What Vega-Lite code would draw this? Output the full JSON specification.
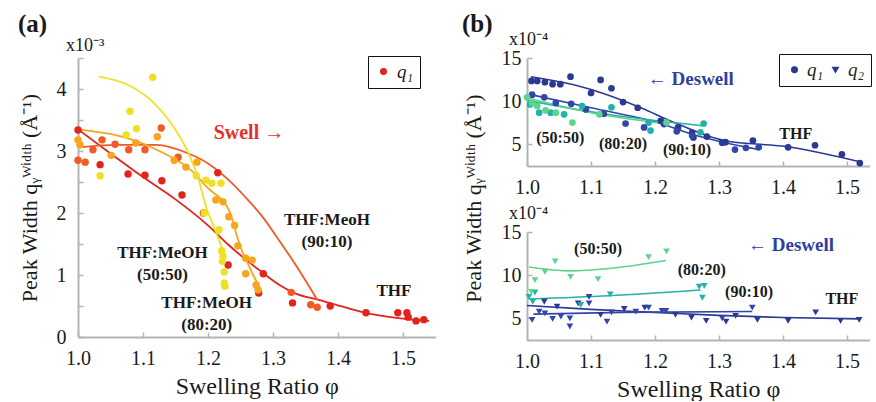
{
"$schema":"https://vega.github.io/schema/vega-lite/v6.json",
"background":"white",
"padding":{"left":17,"top":12,"right":2,"bottom":0},
"config":{
 "font":"Liberation Serif",
 "view":{"stroke":null},
 "axis":{"grid":false,"labelFlush":false,"domainColor":"#b4b4b4","domainWidth":2,"tickColor":"#b4b4b4","tickWidth":1.5,"tickSize":-5,"labelFont":"Liberation Serif","labelFontSize":20,"labelColor":"#1a1a1a","titleFont":"Liberation Serif","titleFontWeight":"normal","titleFontSize":24,"titleColor":"#1a1a1a"},
 "title":{"font":"Liberation Serif","color":"#1a1a1a"},
 "legend":{"labelFont":"Liberation Serif","labelFontSize":19,"labelFontStyle":"italic","labelColor":"#1a1a1a","strokeColor":"#111","padding":6}
},
"datasets":{
 "a_pts":[
  {"s":"THF","phi":1.0,"w":3.34},{"s":"THF","phi":1.034,"w":2.78},{"s":"THF","phi":1.077,"w":2.63},{"s":"THF","phi":1.103,"w":2.61},{"s":"THF","phi":1.129,"w":2.52},{"s":"THF","phi":1.16,"w":2.29},{"s":"THF","phi":1.193,"w":2.0},{"s":"THF","phi":1.215,"w":2.65},{"s":"THF","phi":1.231,"w":1.16},{"s":"THF","phi":1.278,"w":0.71},{"s":"THF","phi":1.285,"w":1.02},{"s":"THF","phi":1.33,"w":0.55},{"s":"THF","phi":1.388,"w":0.5},{"s":"THF","phi":1.443,"w":0.39},{"s":"THF","phi":1.492,"w":0.39},{"s":"THF","phi":1.506,"w":0.39},{"s":"THF","phi":1.508,"w":0.32},{"s":"THF","phi":1.52,"w":0.26},{"s":"THF","phi":1.532,"w":0.28},
  {"s":"90:10","phi":1.0,"w":2.85},{"s":"90:10","phi":1.011,"w":2.82},{"s":"90:10","phi":1.023,"w":3.02},{"s":"90:10","phi":1.037,"w":3.18},{"s":"90:10","phi":1.057,"w":3.11},{"s":"90:10","phi":1.078,"w":3.02},{"s":"90:10","phi":1.103,"w":3.02},{"s":"90:10","phi":1.128,"w":3.37},{"s":"90:10","phi":1.154,"w":2.9},{"s":"90:10","phi":1.328,"w":0.72},{"s":"90:10","phi":1.358,"w":0.52},{"s":"90:10","phi":1.368,"w":0.48},
  {"s":"80:20","phi":1.0,"w":3.18},{"s":"80:20","phi":1.003,"w":3.1},{"s":"80:20","phi":1.051,"w":2.93},{"s":"80:20","phi":1.089,"w":3.13},{"s":"80:20","phi":1.122,"w":3.23},{"s":"80:20","phi":1.148,"w":2.85},{"s":"80:20","phi":1.166,"w":2.74},{"s":"80:20","phi":1.183,"w":2.82},{"s":"80:20","phi":1.212,"w":2.21},{"s":"80:20","phi":1.223,"w":2.18},{"s":"80:20","phi":1.232,"w":1.94},{"s":"80:20","phi":1.241,"w":1.8},{"s":"80:20","phi":1.246,"w":1.47},{"s":"80:20","phi":1.258,"w":1.27},{"s":"80:20","phi":1.268,"w":1.24},{"s":"80:20","phi":1.258,"w":1.02},{"s":"80:20","phi":1.274,"w":0.84},{"s":"80:20","phi":1.277,"w":0.76},
  {"s":"50:50","phi":1.034,"w":2.6},{"s":"50:50","phi":1.074,"w":3.26},{"s":"50:50","phi":1.08,"w":3.64},{"s":"50:50","phi":1.09,"w":3.36},{"s":"50:50","phi":1.115,"w":4.19},{"s":"50:50","phi":1.182,"w":2.6},{"s":"50:50","phi":1.197,"w":2.53},{"s":"50:50","phi":1.206,"w":2.48},{"s":"50:50","phi":1.22,"w":2.48},{"s":"50:50","phi":1.194,"w":2.0},{"s":"50:50","phi":1.217,"w":1.73},{"s":"50:50","phi":1.221,"w":1.39},{"s":"50:50","phi":1.223,"w":1.3},{"s":"50:50","phi":1.222,"w":1.22},{"s":"50:50","phi":1.225,"w":1.05},{"s":"50:50","phi":1.225,"w":0.87},{"s":"50:50","phi":1.226,"w":0.82}
 ],
 "a_fit":[
  {"s":"THF","phi":1.0,"w":3.35},{"s":"THF","phi":1.05,"w":2.96},{"s":"THF","phi":1.1,"w":2.58},{"s":"THF","phi":1.15,"w":2.22},{"s":"THF","phi":1.2,"w":1.8},{"s":"THF","phi":1.23,"w":1.5},{"s":"THF","phi":1.28,"w":1.07},{"s":"THF","phi":1.31,"w":0.84},{"s":"THF","phi":1.335,"w":0.7},{"s":"THF","phi":1.37,"w":0.6},{"s":"THF","phi":1.41,"w":0.48},{"s":"THF","phi":1.443,"w":0.39},{"s":"THF","phi":1.49,"w":0.31},{"s":"THF","phi":1.525,"w":0.27},{"s":"THF","phi":1.54,"w":0.26},
  {"s":"90:10","phi":1.0,"w":3.06},{"s":"90:10","phi":1.06,"w":3.1},{"s":"90:10","phi":1.12,"w":3.1},{"s":"90:10","phi":1.17,"w":2.96},{"s":"90:10","phi":1.2,"w":2.8},{"s":"90:10","phi":1.232,"w":2.53},{"s":"90:10","phi":1.258,"w":2.25},{"s":"90:10","phi":1.283,"w":1.95},{"s":"90:10","phi":1.31,"w":1.55},{"s":"90:10","phi":1.335,"w":1.16},{"s":"90:10","phi":1.368,"w":0.6},
  {"s":"80:20","phi":1.0,"w":3.35},{"s":"80:20","phi":1.075,"w":3.21},{"s":"80:20","phi":1.125,"w":3.0},{"s":"80:20","phi":1.175,"w":2.68},{"s":"80:20","phi":1.2,"w":2.4},{"s":"80:20","phi":1.232,"w":2.05},{"s":"80:20","phi":1.25,"w":1.45},{"s":"80:20","phi":1.265,"w":1.1},{"s":"80:20","phi":1.28,"w":0.78},
  {"s":"50:50","phi":1.032,"w":4.2},{"s":"50:50","phi":1.074,"w":4.08},{"s":"50:50","phi":1.114,"w":3.8},{"s":"50:50","phi":1.145,"w":3.42},{"s":"50:50","phi":1.166,"w":3.05},{"s":"50:50","phi":1.185,"w":2.56},{"s":"50:50","phi":1.197,"w":2.1},{"s":"50:50","phi":1.21,"w":1.75},{"s":"50:50","phi":1.22,"w":1.48},{"s":"50:50","phi":1.226,"w":1.3}
 ],
 "a_txt":[
  {"phi":1.13,"w":1.35,"t":"THF:MeOH"},{"phi":1.13,"w":1.0,"t":"(50:50)"},
  {"phi":1.198,"w":0.55,"t":"THF:MeOH"},{"phi":1.198,"w":0.2,"t":"(80:20)"},
  {"phi":1.383,"w":1.89,"t":"THF:MeoH"},{"phi":1.383,"w":1.53,"t":"(90:10)"},
  {"phi":1.486,"w":0.74,"t":"THF"}
 ],
 "b1_pts":[
  {"s":"THF","phi":1.007,"q":12.35},{"s":"THF","phi":1.016,"q":12.35},{"s":"THF","phi":1.028,"q":12.2},{"s":"THF","phi":1.04,"q":11.97},{"s":"THF","phi":1.052,"q":11.97},{"s":"THF","phi":1.068,"q":12.84},{"s":"THF","phi":1.1,"q":10.95},{"s":"THF","phi":1.115,"q":12.46},{"s":"THF","phi":1.132,"q":11.5},{"s":"THF","phi":1.15,"q":9.9},{"s":"THF","phi":1.173,"q":9.24},{"s":"THF","phi":1.209,"q":7.73},{"s":"THF","phi":1.236,"q":6.97},{"s":"THF","phi":1.258,"q":6.36},{"s":"THF","phi":1.26,"q":5.8},{"s":"THF","phi":1.281,"q":5.9},{"s":"THF","phi":1.305,"q":5.2},{"s":"THF","phi":1.31,"q":5.26},{"s":"THF","phi":1.353,"q":5.45},{"s":"THF","phi":1.408,"q":4.66},{"s":"THF","phi":1.45,"q":4.9},{"s":"THF","phi":1.492,"q":3.86},{"s":"THF","phi":1.52,"q":2.84},
  {"s":"90:10","phi":1.008,"q":10.76},{"s":"90:10","phi":1.027,"q":10.45},{"s":"90:10","phi":1.045,"q":9.8},{"s":"90:10","phi":1.069,"q":9.7},{"s":"90:10","phi":1.092,"q":9.05},{"s":"90:10","phi":1.12,"q":8.56},{"s":"90:10","phi":1.154,"q":7.42},{"s":"90:10","phi":1.183,"q":6.97},{"s":"90:10","phi":1.214,"q":7.35},{"s":"90:10","phi":1.234,"q":6.51},{"s":"90:10","phi":1.258,"q":6.02},{"s":"90:10","phi":1.325,"q":4.4},{"s":"90:10","phi":1.342,"q":4.6},{"s":"90:10","phi":1.362,"q":4.66},
  {"s":"80:20","phi":1.005,"q":9.62},{"s":"80:20","phi":1.019,"q":8.67},{"s":"80:20","phi":1.037,"q":8.67},{"s":"80:20","phi":1.058,"q":8.48},{"s":"80:20","phi":1.086,"q":9.43},{"s":"80:20","phi":1.132,"q":9.3},{"s":"80:20","phi":1.19,"q":7.53},{"s":"80:20","phi":1.193,"q":6.6},{"s":"80:20","phi":1.271,"q":6.4},{"s":"80:20","phi":1.276,"q":7.42},
  {"s":"50:50","phi":1.0,"q":10.45},{"s":"50:50","phi":1.008,"q":9.8},{"s":"50:50","phi":1.016,"q":9.43},{"s":"50:50","phi":1.029,"q":8.94},{"s":"50:50","phi":1.045,"q":8.67},{"s":"50:50","phi":1.071,"q":7.53},{"s":"50:50","phi":1.113,"q":8.48},{"s":"50:50","phi":1.218,"q":7.53}
 ],
 "b1_fit":[
  {"s":"THF","phi":1.006,"q":12.84},{"s":"THF","phi":1.073,"q":11.9},{"s":"THF","phi":1.125,"q":10.76},{"s":"THF","phi":1.178,"q":9.24},{"s":"THF","phi":1.23,"q":7.53},{"s":"THF","phi":1.308,"q":5.45},{"s":"THF","phi":1.41,"q":4.7},{"s":"THF","phi":1.52,"q":2.99},
  {"s":"90:10","phi":1.006,"q":10.76},{"s":"90:10","phi":1.1,"q":9.24},{"s":"90:10","phi":1.204,"q":7.53},{"s":"90:10","phi":1.266,"q":6.0},{"s":"90:10","phi":1.362,"q":4.4},
  {"s":"80:20","phi":1.0,"q":10.1},{"s":"80:20","phi":1.125,"q":8.48},{"s":"80:20","phi":1.274,"q":7.15},
  {"s":"50:50","phi":1.0,"q":10.4},{"s":"50:50","phi":1.1,"q":8.67},{"s":"50:50","phi":1.214,"q":7.42}
 ],
 "b1_txt":[
  {"phi":1.052,"q":5.71,"t":"(50:50)"},{"phi":1.15,"q":5.09,"t":"(80:20)"},{"phi":1.25,"q":4.33,"t":"(90:10)"},{"phi":1.42,"q":6.2,"t":"THF"}
 ],
 "b2_pts":[
  {"s":"THF","phi":1.027,"q":6.93},{"s":"THF","phi":1.047,"q":6.36},{"s":"THF","phi":1.08,"q":6.74},{"s":"THF","phi":1.115,"q":5.4},{"s":"THF","phi":1.152,"q":6.09},{"s":"THF","phi":1.184,"q":6.24},{"s":"THF","phi":1.232,"q":5.4},{"s":"THF","phi":1.257,"q":5.09},{"s":"THF","phi":1.28,"q":4.71},{"s":"THF","phi":1.311,"q":4.63},{"s":"THF","phi":1.326,"q":5.29},{"s":"THF","phi":1.36,"q":4.83},{"s":"THF","phi":1.408,"q":4.71},{"s":"THF","phi":1.451,"q":5.7},{"s":"THF","phi":1.49,"q":4.71},{"s":"THF","phi":1.519,"q":4.83},
  {"s":"90:10","phi":1.008,"q":4.83},{"s":"90:10","phi":1.019,"q":5.78},{"s":"90:10","phi":1.028,"q":5.59},{"s":"90:10","phi":1.04,"q":4.94},{"s":"90:10","phi":1.053,"q":5.2},{"s":"90:10","phi":1.067,"q":5.0},{"s":"90:10","phi":1.067,"q":4.06},{"s":"90:10","phi":1.097,"q":6.74},{"s":"90:10","phi":1.097,"q":7.5},{"s":"90:10","phi":1.125,"q":4.63},{"s":"90:10","phi":1.132,"q":5.7},{"s":"90:10","phi":1.17,"q":5.78},{"s":"90:10","phi":1.19,"q":6.24},{"s":"90:10","phi":1.211,"q":5.86},{"s":"90:10","phi":1.217,"q":5.86},{"s":"90:10","phi":1.305,"q":5.0},{"s":"90:10","phi":1.352,"q":6.24},
  {"s":"80:20","phi":1.003,"q":7.5},{"s":"80:20","phi":1.009,"q":6.93},{"s":"80:20","phi":1.0125,"q":8.0},{"s":"80:20","phi":1.084,"q":6.55},{"s":"80:20","phi":1.13,"q":7.77},{"s":"80:20","phi":1.269,"q":8.66},{"s":"80:20","phi":1.277,"q":8.77},{"s":"80:20","phi":1.274,"q":7.39},
  {"s":"50:50","phi":1.007,"q":8.08},{"s":"50:50","phi":1.0125,"q":9.43},{"s":"50:50","phi":1.028,"q":10.38},{"s":"50:50","phi":1.044,"q":11.6},{"s":"50:50","phi":1.068,"q":9.8},{"s":"50:50","phi":1.111,"q":9.54},{"s":"50:50","phi":1.19,"q":12.1},{"s":"50:50","phi":1.218,"q":12.76}
 ],
 "b2_fit":[
  {"s":"THF","phi":1.0,"q":6.5},{"s":"THF","phi":1.1,"q":6.05},{"s":"THF","phi":1.2,"q":5.7},{"s":"THF","phi":1.3,"q":5.35},{"s":"THF","phi":1.4,"q":5.1},{"s":"THF","phi":1.52,"q":4.95},
  {"s":"90:10","phi":1.01,"q":5.5},{"s":"90:10","phi":1.15,"q":5.7},{"s":"90:10","phi":1.352,"q":5.8},
  {"s":"80:20","phi":1.003,"q":7.24},{"s":"80:20","phi":1.128,"q":7.62},{"s":"80:20","phi":1.271,"q":8.28},
  {"s":"50:50","phi":1.003,"q":10.95},{"s":"50:50","phi":1.068,"q":10.5},{"s":"50:50","phi":1.128,"q":10.77},{"s":"50:50","phi":1.217,"q":11.7}
 ],
 "b2_txt":[
  {"phi":1.111,"q":13.07,"t":"(50:50)"},{"phi":1.273,"q":10.63,"t":"(80:20)"},{"phi":1.347,"q":8.02,"t":"(90:10)"},{"phi":1.492,"q":7.26,"t":"THF"}
 ]
},
"spacing":25,
"resolve":{"scale":{"color":"independent","shape":"independent"}},
"hconcat":[
 {
  "title":{"text":"(a)","anchor":"start","frame":"bounds","fontSize":25,"fontWeight":"bold","offset":0},
  "vconcat":[{
   "title":{"text":"x10⁻³","anchor":"start","frame":"group","dx":-12,"fontSize":18,"fontWeight":"normal","offset":2},
   "width":357.5,"height":279,
   "encoding":{
    "x":{"field":"phi","type":"quantitative","scale":{"domain":[1,1.55],"nice":false,"zero":false},"axis":{"values":[1,1.1,1.2,1.3,1.4,1.5],"format":".1f","labelPadding":16,"title":"Swelling Ratio φ","titlePadding":6}},
    "y":{"field":"w","type":"quantitative","scale":{"domain":[0,4.5],"nice":false},"axis":{"values":[0,0.5,1,1.5,2,2.5,3,3.5,4,4.5],"format":".0f","labelExpr":"datum.value % 1 === 0 ? datum.label : ''","labelPadding":17,"title":"Peak Width qᵧᵂⁱᵈᵗʰ (Å⁻¹)","titleX":-42,"titleBaseline":"alphabetic","titleFontSize":22}}
   },
   "layer":[
    {"data":{"name":"a_fit"},"mark":{"type":"line","interpolate":"monotone","strokeWidth":1.8},"encoding":{"color":{"field":"s","type":"nominal","scale":{"domain":["THF","90:10","80:20","50:50"],"range":["#e3241d","#f15a24","#f8a41c","#f0e024"]},"legend":null}}},
    {"data":{"name":"a_pts"},"mark":{"type":"point","filled":true,"size":55,"opacity":1},"encoding":{"color":{"field":"s","type":"nominal","legend":null},"shape":{"datum":"q₁","type":"nominal","scale":{"range":["circle"]},"legend":{"title":null,"orient":"none","legendX":290,"legendY":-2,"symbolSize":30,"symbolFillColor":"#e3241d","symbolStrokeColor":"#e3241d","labelFontSize":19,"labelOffset":4,"padding":6,"encode":{"legend":{"update":{"strokeWidth":{"value":2}}}}}}}},
    {"data":{"name":"a_txt"},"mark":{"type":"text","fontSize":17,"fontWeight":"bold","color":"#1a1a1a"},"encoding":{"text":{"field":"t"}}},
    {"data":{"values":[{"phi":1.263,"w":3.29,"t":"Swell →"}]},"mark":{"type":"text","fontSize":20,"fontWeight":"bold","color":"#e8302a"},"encoding":{"text":{"field":"t"}}}
   ]
  }]
 },
 {
  "title":{"text":"(b)","anchor":"start","frame":"bounds","fontSize":25,"fontWeight":"bold","offset":-6},
  "spacing":66,
  "bounds":"flush",
  "resolve":{"scale":{"shape":"independent","color":"shared"}},
  "vconcat":[
   {
    "title":{"text":"x10⁻⁴","anchor":"start","frame":"group","dx":-18,"fontSize":18,"fontWeight":"normal","offset":-1},
    "width":342.4,"height":108,
    "encoding":{
     "x":{"field":"phi","type":"quantitative","scale":{"domain":[1,1.535],"nice":false,"zero":false},"axis":{"values":[1,1.1,1.2,1.3,1.4,1.5],"format":".1f","labelPadding":16,"title":null}},
     "y":{"field":"q","type":"quantitative","scale":{"domain":[2.5,15],"nice":false,"zero":false},"axis":{"values":[5,10,15],"labelPadding":11,"title":"Peak Width qᵧᵂⁱᵈᵗʰ (Å⁻¹)","titleX":-47,"titleY":140,"titleBaseline":"alphabetic","titleFontSize":22}}
    },
    "layer":[
     {"data":{"name":"b1_fit"},"mark":{"type":"line","interpolate":"monotone","strokeWidth":1.6},"encoding":{"color":{"field":"s","type":"nominal","scale":{"domain":["THF","90:10","80:20","50:50"],"range":["#2b3990","#3346a8","#22b2a8","#5dd38c"]},"legend":null}}},
     {"data":{"name":"b1_pts"},"mark":{"type":"point","filled":true,"size":45,"opacity":1},"encoding":{"color":{"field":"s","type":"nominal","legend":null},"shape":{"datum":"q₁","type":"nominal","scale":{"domain":["q₁","q₂"],"range":["circle","triangle-down"]},"legend":{"title":null,"orient":"none","legendX":252,"legendY":-4,"direction":"horizontal","symbolSize":30,"symbolFillColor":"#2b3990","symbolStrokeColor":"#2b3990","labelFontSize":19,"padding":6,"columnPadding":2,"labelOffset":3,"encode":{"legend":{"update":{"strokeWidth":{"value":2}}}}}}}},
     {"data":{"name":"b1_txt"},"mark":{"type":"text","fontSize":16,"fontWeight":"bold","color":"#1a1a1a"},"encoding":{"text":{"field":"t"}}},
     {"data":{"values":[{"phi":1.256,"q":12.53,"t":"← Deswell"}]},"mark":{"type":"text","fontSize":19,"fontWeight":"bold","color":"#2e3f9e"},"encoding":{"text":{"field":"t"}}}
    ]
   },
   {
    "title":{"text":"x10⁻⁴","anchor":"start","frame":"group","dx":-18,"fontSize":18,"fontWeight":"normal","offset":-1},
    "width":342.4,"height":108,
    "encoding":{
     "x":{"field":"phi","type":"quantitative","scale":{"domain":[1,1.535],"nice":false,"zero":false},"axis":{"values":[1,1.1,1.2,1.3,1.4,1.5],"format":".1f","labelPadding":16,"title":"Swelling Ratio φ","titlePadding":6}},
     "y":{"field":"q","type":"quantitative","scale":{"domain":[2.5,15],"nice":false,"zero":false},"axis":{"values":[5,10,15],"labelPadding":11,"title":null}}
    },
    "layer":[
     {"data":{"name":"b2_fit"},"mark":{"type":"line","interpolate":"monotone","strokeWidth":1.6},"encoding":{"color":{"field":"s","type":"nominal","legend":null}}},
     {"data":{"name":"b2_pts"},"mark":{"type":"point","filled":true,"size":45,"opacity":1},"encoding":{"color":{"field":"s","type":"nominal","legend":null},"shape":{"datum":"q₂","type":"nominal","scale":{"domain":["q₁","q₂"],"range":["circle","triangle-down"]},"legend":null}}},
     {"data":{"name":"b2_txt"},"mark":{"type":"text","fontSize":16,"fontWeight":"bold","color":"#1a1a1a"},"encoding":{"text":{"field":"t"}}},
     {"data":{"values":[{"phi":1.4125,"q":13.45,"t":"← Deswell"}]},"mark":{"type":"text","fontSize":19,"fontWeight":"bold","color":"#2e3f9e"},"encoding":{"text":{"field":"t"}}}
    ]
   }
  ]
 }
]
}
